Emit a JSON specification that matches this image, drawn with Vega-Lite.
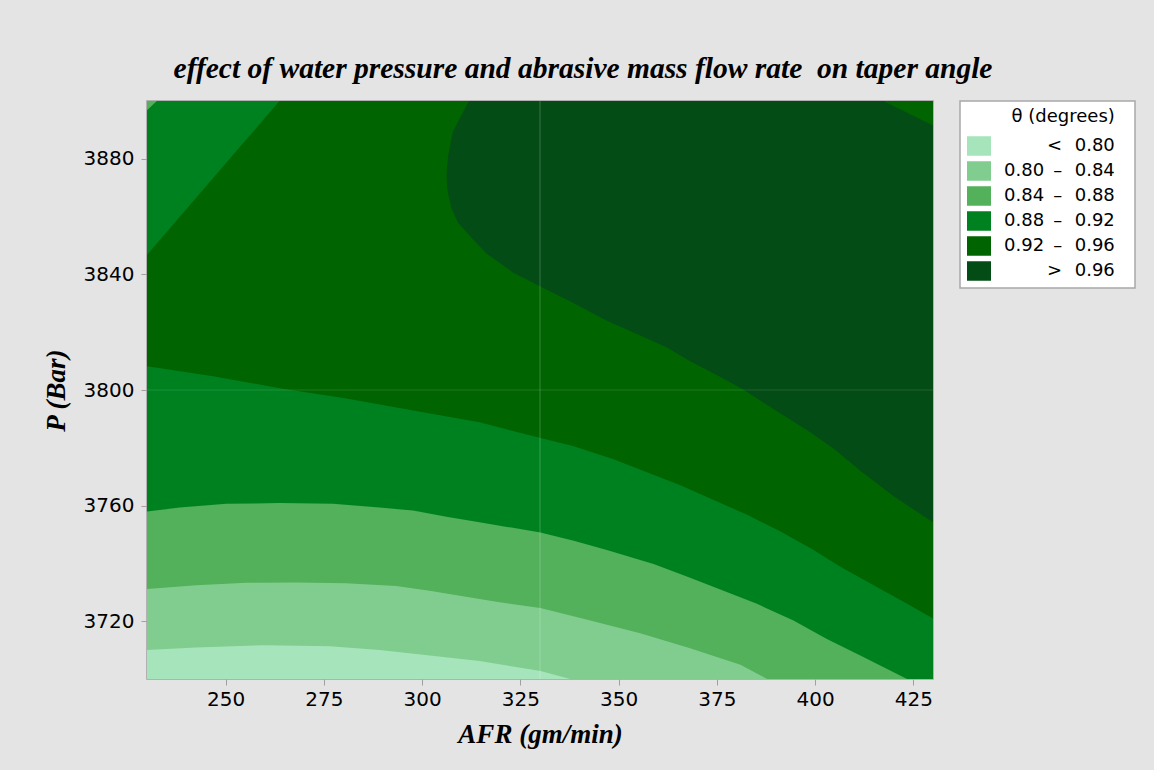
{
  "$schema": "https://vega.github.io/schema/vega-lite/v6.json",
  "width": 786,
  "height": 578,
  "autosize": {"type": "none"},
  "padding": {"left": 147, "top": 101, "right": 221, "bottom": 91},
  "background": "#e4e4e4",
  "title": {
    "text": "effect of water pressure and abrasive mass flow rate\u00a0 on taper angle",
    "font": "Liberation Serif",
    "fontStyle": "italic",
    "fontWeight": "bold",
    "fontSize": 29.5,
    "color": "#000000",
    "anchor": "middle",
    "dx": 43,
    "offset": 16
  },
  "datasets": {
    "polys": [
      {"p": "p1", "lv": "> 0.96", "i": 0, "x": 230, "y": 3700},
      {"p": "p1", "lv": "> 0.96", "i": 1, "x": 430, "y": 3700},
      {"p": "p1", "lv": "> 0.96", "i": 2, "x": 430, "y": 3900},
      {"p": "p1", "lv": "> 0.96", "i": 3, "x": 230, "y": 3900},

      {"p": "p2", "lv": "0.92 – 0.96", "i": 0, "x": 230, "y": 3700},
      {"p": "p2", "lv": "0.92 – 0.96", "i": 1, "x": 430, "y": 3700},
      {"p": "p2", "lv": "0.92 – 0.96", "i": 2, "x": 430, "y": 3754.2},
      {"p": "p2", "lv": "0.92 – 0.96", "i": 3, "x": 420.0, "y": 3763.2},
      {"p": "p2", "lv": "0.92 – 0.96", "i": 4, "x": 411.5, "y": 3772.1},
      {"p": "p2", "lv": "0.92 – 0.96", "i": 5, "x": 404.7, "y": 3779.8},
      {"p": "p2", "lv": "0.92 – 0.96", "i": 6, "x": 397.9, "y": 3786.2},
      {"p": "p2", "lv": "0.92 – 0.96", "i": 7, "x": 389.5, "y": 3793.3},
      {"p": "p2", "lv": "0.92 – 0.96", "i": 8, "x": 381.8, "y": 3800.1},
      {"p": "p2", "lv": "0.92 – 0.96", "i": 9, "x": 375.0, "y": 3805.2},
      {"p": "p2", "lv": "0.92 – 0.96", "i": 10, "x": 368.3, "y": 3809.9},
      {"p": "p2", "lv": "0.92 – 0.96", "i": 11, "x": 362.3, "y": 3814.7},
      {"p": "p2", "lv": "0.92 – 0.96", "i": 12, "x": 355.5, "y": 3818.9},
      {"p": "p2", "lv": "0.92 – 0.96", "i": 13, "x": 347.0, "y": 3824.0},
      {"p": "p2", "lv": "0.92 – 0.96", "i": 14, "x": 338.6, "y": 3830.0},
      {"p": "p2", "lv": "0.92 – 0.96", "i": 15, "x": 330.1, "y": 3835.8},
      {"p": "p2", "lv": "0.92 – 0.96", "i": 16, "x": 323.1, "y": 3840.7},
      {"p": "p2", "lv": "0.92 – 0.96", "i": 17, "x": 316.5, "y": 3847.1},
      {"p": "p2", "lv": "0.92 – 0.96", "i": 18, "x": 312.5, "y": 3852.8},
      {"p": "p2", "lv": "0.92 – 0.96", "i": 19, "x": 309.1, "y": 3858.0},
      {"p": "p2", "lv": "0.92 – 0.96", "i": 20, "x": 307.4, "y": 3863.1},
      {"p": "p2", "lv": "0.92 – 0.96", "i": 21, "x": 306.4, "y": 3869.5},
      {"p": "p2", "lv": "0.92 – 0.96", "i": 22, "x": 306.2, "y": 3874.6},
      {"p": "p2", "lv": "0.92 – 0.96", "i": 23, "x": 306.6, "y": 3881.0},
      {"p": "p2", "lv": "0.92 – 0.96", "i": 24, "x": 307.8, "y": 3889.3},
      {"p": "p2", "lv": "0.92 – 0.96", "i": 25, "x": 311.9, "y": 3900},
      {"p": "p2", "lv": "0.92 – 0.96", "i": 26, "x": 230, "y": 3900},

      {"p": "p3", "lv": "0.92 – 0.96", "i": 0, "x": 417.4, "y": 3900},
      {"p": "p3", "lv": "0.92 – 0.96", "i": 1, "x": 430, "y": 3900},
      {"p": "p3", "lv": "0.92 – 0.96", "i": 2, "x": 430, "y": 3891.5},

      {"p": "p4", "lv": "0.88 – 0.92", "i": 0, "x": 230, "y": 3700},
      {"p": "p4", "lv": "0.88 – 0.92", "i": 1, "x": 430, "y": 3700},
      {"p": "p4", "lv": "0.88 – 0.92", "i": 2, "x": 430, "y": 3720.9},
      {"p": "p4", "lv": "0.88 – 0.92", "i": 3, "x": 423.4, "y": 3726.0},
      {"p": "p4", "lv": "0.88 – 0.92", "i": 4, "x": 414.9, "y": 3732.4},
      {"p": "p4", "lv": "0.88 – 0.92", "i": 5, "x": 406.4, "y": 3738.8},
      {"p": "p4", "lv": "0.88 – 0.92", "i": 6, "x": 399.6, "y": 3744.6},
      {"p": "p4", "lv": "0.88 – 0.92", "i": 7, "x": 391.2, "y": 3751.0},
      {"p": "p4", "lv": "0.88 – 0.92", "i": 8, "x": 382.7, "y": 3756.8},
      {"p": "p4", "lv": "0.88 – 0.92", "i": 9, "x": 374.2, "y": 3761.9},
      {"p": "p4", "lv": "0.88 – 0.92", "i": 10, "x": 365.7, "y": 3767.0},
      {"p": "p4", "lv": "0.88 – 0.92", "i": 11, "x": 357.2, "y": 3771.5},
      {"p": "p4", "lv": "0.88 – 0.92", "i": 12, "x": 348.7, "y": 3776.0},
      {"p": "p4", "lv": "0.88 – 0.92", "i": 13, "x": 338.6, "y": 3780.5},
      {"p": "p4", "lv": "0.88 – 0.92", "i": 14, "x": 330.1, "y": 3783.4},
      {"p": "p4", "lv": "0.88 – 0.92", "i": 15, "x": 314.6, "y": 3788.8},
      {"p": "p4", "lv": "0.88 – 0.92", "i": 16, "x": 297.7, "y": 3792.9},
      {"p": "p4", "lv": "0.88 – 0.92", "i": 17, "x": 280.7, "y": 3797.1},
      {"p": "p4", "lv": "0.88 – 0.92", "i": 18, "x": 263.7, "y": 3800.6},
      {"p": "p4", "lv": "0.88 – 0.92", "i": 19, "x": 246.8, "y": 3804.8},
      {"p": "p4", "lv": "0.88 – 0.92", "i": 20, "x": 230, "y": 3808.2},

      {"p": "p5", "lv": "0.88 – 0.92", "i": 0, "x": 230, "y": 3900},
      {"p": "p5", "lv": "0.88 – 0.92", "i": 1, "x": 263.7, "y": 3900},
      {"p": "p5", "lv": "0.88 – 0.92", "i": 2, "x": 230, "y": 3846.8},

      {"p": "p6", "lv": "0.84 – 0.88", "i": 0, "x": 230, "y": 3900},
      {"p": "p6", "lv": "0.84 – 0.88", "i": 1, "x": 232.5, "y": 3900},
      {"p": "p6", "lv": "0.84 – 0.88", "i": 2, "x": 230, "y": 3896.8},

      {"p": "p7", "lv": "0.84 – 0.88", "i": 0, "x": 230, "y": 3700},
      {"p": "p7", "lv": "0.84 – 0.88", "i": 1, "x": 423.4, "y": 3700},
      {"p": "p7", "lv": "0.84 – 0.88", "i": 2, "x": 419.1, "y": 3702.9},
      {"p": "p7", "lv": "0.84 – 0.88", "i": 3, "x": 411.5, "y": 3708.1},
      {"p": "p7", "lv": "0.84 – 0.88", "i": 4, "x": 403.0, "y": 3713.8},
      {"p": "p7", "lv": "0.84 – 0.88", "i": 5, "x": 394.5, "y": 3720.2},
      {"p": "p7", "lv": "0.84 – 0.88", "i": 6, "x": 385.2, "y": 3726.0},
      {"p": "p7", "lv": "0.84 – 0.88", "i": 7, "x": 376.7, "y": 3730.5},
      {"p": "p7", "lv": "0.84 – 0.88", "i": 8, "x": 368.2, "y": 3735.0},
      {"p": "p7", "lv": "0.84 – 0.88", "i": 9, "x": 358.9, "y": 3739.8},
      {"p": "p7", "lv": "0.84 – 0.88", "i": 10, "x": 347.0, "y": 3744.6},
      {"p": "p7", "lv": "0.84 – 0.88", "i": 11, "x": 338.6, "y": 3747.8},
      {"p": "p7", "lv": "0.84 – 0.88", "i": 12, "x": 330.1, "y": 3750.7},
      {"p": "p7", "lv": "0.84 – 0.88", "i": 13, "x": 323.1, "y": 3752.3},
      {"p": "p7", "lv": "0.84 – 0.88", "i": 14, "x": 314.6, "y": 3754.2},
      {"p": "p7", "lv": "0.84 – 0.88", "i": 15, "x": 306.2, "y": 3756.1},
      {"p": "p7", "lv": "0.84 – 0.88", "i": 16, "x": 297.7, "y": 3758.3},
      {"p": "p7", "lv": "0.84 – 0.88", "i": 17, "x": 289.2, "y": 3759.3},
      {"p": "p7", "lv": "0.84 – 0.88", "i": 18, "x": 277.3, "y": 3760.6},
      {"p": "p7", "lv": "0.84 – 0.88", "i": 19, "x": 263.7, "y": 3760.9},
      {"p": "p7", "lv": "0.84 – 0.88", "i": 20, "x": 250.2, "y": 3760.6},
      {"p": "p7", "lv": "0.84 – 0.88", "i": 21, "x": 238.3, "y": 3759.3},
      {"p": "p7", "lv": "0.84 – 0.88", "i": 22, "x": 230, "y": 3758.0},

      {"p": "p8", "lv": "0.80 – 0.84", "i": 0, "x": 230, "y": 3700},
      {"p": "p8", "lv": "0.80 – 0.84", "i": 1, "x": 387.8, "y": 3700},
      {"p": "p8", "lv": "0.80 – 0.84", "i": 2, "x": 381.0, "y": 3704.9},
      {"p": "p8", "lv": "0.80 – 0.84", "i": 3, "x": 368.2, "y": 3710.6},
      {"p": "p8", "lv": "0.80 – 0.84", "i": 4, "x": 355.5, "y": 3715.8},
      {"p": "p8", "lv": "0.80 – 0.84", "i": 5, "x": 342.8, "y": 3720.2},
      {"p": "p8", "lv": "0.80 – 0.84", "i": 6, "x": 330.1, "y": 3724.6},
      {"p": "p8", "lv": "0.80 – 0.84", "i": 7, "x": 318.9, "y": 3726.7},
      {"p": "p8", "lv": "0.80 – 0.84", "i": 8, "x": 310.4, "y": 3728.6},
      {"p": "p8", "lv": "0.80 – 0.84", "i": 9, "x": 301.9, "y": 3730.5},
      {"p": "p8", "lv": "0.80 – 0.84", "i": 10, "x": 293.4, "y": 3732.2},
      {"p": "p8", "lv": "0.80 – 0.84", "i": 11, "x": 280.7, "y": 3733.1},
      {"p": "p8", "lv": "0.80 – 0.84", "i": 12, "x": 268.0, "y": 3733.4},
      {"p": "p8", "lv": "0.80 – 0.84", "i": 13, "x": 255.3, "y": 3733.3},
      {"p": "p8", "lv": "0.80 – 0.84", "i": 14, "x": 242.5, "y": 3732.4},
      {"p": "p8", "lv": "0.80 – 0.84", "i": 15, "x": 230, "y": 3731.1},

      {"p": "p9", "lv": "< 0.80", "i": 0, "x": 230, "y": 3700},
      {"p": "p9", "lv": "< 0.80", "i": 1, "x": 337.7, "y": 3700},
      {"p": "p9", "lv": "< 0.80", "i": 2, "x": 330.1, "y": 3702.8},
      {"p": "p9", "lv": "< 0.80", "i": 3, "x": 314.6, "y": 3706.2},
      {"p": "p9", "lv": "< 0.80", "i": 4, "x": 301.9, "y": 3708.1},
      {"p": "p9", "lv": "< 0.80", "i": 5, "x": 289.2, "y": 3710.0},
      {"p": "p9", "lv": "< 0.80", "i": 6, "x": 276.5, "y": 3711.3},
      {"p": "p9", "lv": "< 0.80", "i": 7, "x": 259.5, "y": 3711.7},
      {"p": "p9", "lv": "< 0.80", "i": 8, "x": 242.5, "y": 3710.9},
      {"p": "p9", "lv": "< 0.80", "i": 9, "x": 230, "y": 3710.0}
    ],
    "vlines": [{"x": 330}],
    "hlines": [{"y": 3800}]
  },
  "layer": [
    {
      "data": {"name": "polys"},
      "encoding": {
        "x": {
          "field": "x", "type": "quantitative", "title": "AFR (gm/min)",
          "scale": {"domain": [230, 430], "nice": false, "zero": false},
          "axis": {"values": [250, 275, 300, 325, 350, 375, 400, 425], "format": "d"}
        },
        "y": {
          "field": "y", "type": "quantitative", "title": "P (Bar)",
          "scale": {"domain": [3700, 3900], "nice": false, "zero": false},
          "axis": {"values": [3720, 3760, 3800, 3840, 3880], "format": "d"}
        },
        "fill": {
          "field": "lv", "type": "nominal", "title": "θ (degrees)\u2800",
          "scale": {
            "domain": ["< 0.80", "0.80 – 0.84", "0.84 – 0.88", "0.88 – 0.92", "0.92 – 0.96", "> 0.96"],
            "range": ["#a6e5bb", "#81cd8f", "#53b05b", "#008120", "#006500", "#034c16"]
          },
          "legend": {
            "labelExpr": "datum.value === '< 0.80' ? '<\u2002\u20090.80\u2800' : datum.value === '> 0.96' ? '>\u2002\u20090.96\u2800' : replace(datum.value, ' – ', '\u2002–\u2002\u2009') + '\u2800'"
          }
        },
        "order": {"field": "i", "type": "quantitative"}
      },
      "layer": [
        {"transform": [{"filter": "datum.p === 'p1'"}], "mark": {"type": "line", "strokeWidth": 0, "clip": true}},
        {"transform": [{"filter": "datum.p === 'p2'"}], "mark": {"type": "line", "strokeWidth": 0, "clip": true}},
        {"transform": [{"filter": "datum.p === 'p3'"}], "mark": {"type": "line", "strokeWidth": 0, "clip": true}},
        {"transform": [{"filter": "datum.p === 'p4'"}], "mark": {"type": "line", "strokeWidth": 0, "clip": true}},
        {"transform": [{"filter": "datum.p === 'p5'"}], "mark": {"type": "line", "strokeWidth": 0, "clip": true}},
        {"transform": [{"filter": "datum.p === 'p6'"}], "mark": {"type": "line", "strokeWidth": 0, "clip": true}},
        {"transform": [{"filter": "datum.p === 'p7'"}], "mark": {"type": "line", "strokeWidth": 0, "clip": true}},
        {"transform": [{"filter": "datum.p === 'p8'"}], "mark": {"type": "line", "strokeWidth": 0, "clip": true}},
        {"transform": [{"filter": "datum.p === 'p9'"}], "mark": {"type": "line", "strokeWidth": 0, "clip": true}}
      ]
    },
    {
      "data": {"name": "vlines"},
      "mark": {"type": "rule", "color": "#ffffff", "opacity": 0.22, "strokeWidth": 1},
      "encoding": {"x": {"field": "x", "type": "quantitative", "title": "AFR (gm/min)"}}
    },
    {
      "data": {"name": "hlines"},
      "mark": {"type": "rule", "color": "#ffffff", "opacity": 0.12, "strokeWidth": 1},
      "encoding": {"y": {"field": "y", "type": "quantitative", "title": "P (Bar)"}}
    }
  ],
  "config": {
    "view": {"stroke": "#a0a0a0", "strokeWidth": 1.5},
    "axis": {
      "domain": false,
      "grid": false,
      "ticks": true,
      "tickColor": "#a0a0a0",
      "tickSize": 6,
      "tickWidth": 1,
      "labelFont": "DejaVu Sans",
      "labelFontSize": 20,
      "labelColor": "#000000",
      "labelFontWeight": 500,
      "titleFont": "Liberation Serif",
      "titleFontStyle": "italic",
      "titleFontWeight": "bold",
      "titleFontSize": 27,
      "titleColor": "#000000"
    },
    "axisX": {"titlePadding": 12, "labelFlush": false, "labelPadding": 4},
    "axisY": {"titlePadding": 13, "labelFlush": false, "labelPadding": 7},
    "legend": {
      "orient": "right",
      "offset": 27,
      "padding": 7,
      "fillColor": "#ffffff",
      "strokeColor": "#a8a8a8",
      "strokeWidth": 1.5,
      "titleFont": "DejaVu Sans",
      "titleFontSize": 18,
      "titleFontWeight": "normal",
      "titleColor": "#000000",
      "titleAnchor": "end",
      "titlePadding": 8,
      "labelFont": "DejaVu Sans",
      "labelFontSize": 18,
      "labelColor": "#000000",
      "labelAlign": "right",
      "labelOffset": 137,
      "labelLimit": 300,
      "symbolType": "M-1,-0.8125H1V0.8125H-1Z",
      "symbolSize": 576,
      "symbolStrokeWidth": 0,
      "rowPadding": 3
    }
  }
}
